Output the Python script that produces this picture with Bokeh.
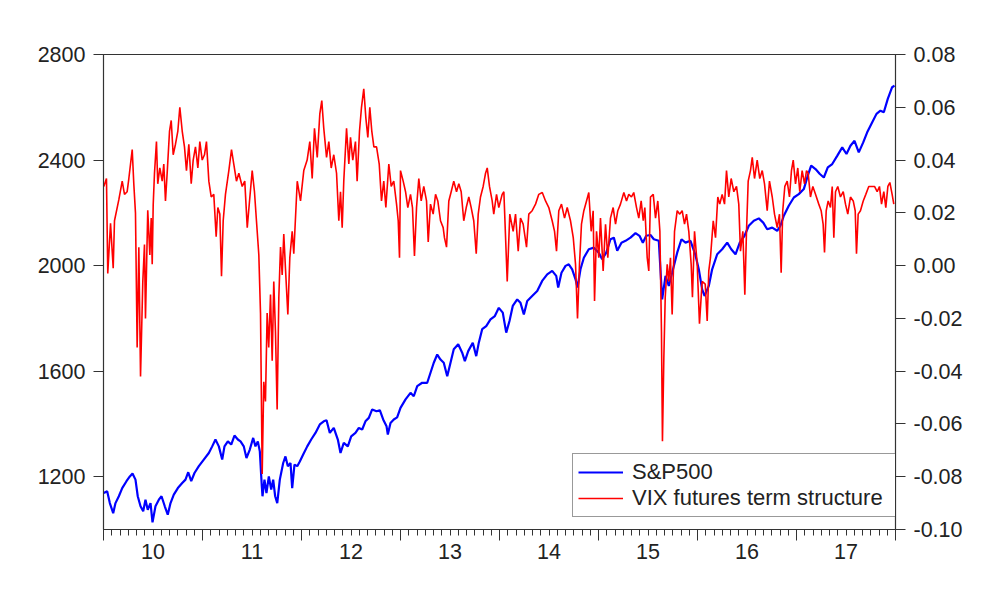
from bokeh.plotting import figure
from bokeh.models import (Range1d, LinearAxis, FixedTicker, NumeralTickFormatter,
                          Legend, LegendItem, ColumnDataSource)
from bokeh.embed import file_html
from bokeh.resources import INLINE

# ---- data (decimal year, value) ----
spx_t = [2010.003, 2010.037, 2010.064, 2010.098, 2010.121, 2010.155, 2010.189, 2010.232, 2010.266, 2010.293,
         2010.323, 2010.346, 2010.374, 2010.401, 2010.424, 2010.447, 2010.475, 2010.495, 2010.525, 2010.559,
         2010.586, 2010.619, 2010.649, 2010.677, 2010.710, 2010.751, 2010.795, 2010.828, 2010.856, 2010.886,
         2010.919, 2010.963, 2011.013, 2011.064, 2011.098, 2011.131, 2011.165, 2011.199, 2011.222, 2011.256,
         2011.290, 2011.323, 2011.357, 2011.384, 2011.417, 2011.444, 2011.478, 2011.512, 2011.535, 2011.559,
         2011.579, 2011.599, 2011.606, 2011.626, 2011.646, 2011.670, 2011.694, 2011.714, 2011.734, 2011.755,
         2011.781, 2011.815, 2011.838, 2011.862, 2011.889, 2011.906, 2011.929, 2011.957, 2011.983, 2012.017,
         2012.058, 2012.098, 2012.141, 2012.185, 2012.225, 2012.253, 2012.286, 2012.326, 2012.367, 2012.394,
         2012.427, 2012.468, 2012.502, 2012.545, 2012.579, 2012.613, 2012.646, 2012.680, 2012.714, 2012.758,
         2012.791, 2012.825, 2012.859, 2012.872, 2012.899, 2012.932, 2012.966, 2013.000, 2013.051, 2013.101,
         2013.134, 2013.169, 2013.219, 2013.270, 2013.303, 2013.336, 2013.371, 2013.404, 2013.437, 2013.472,
         2013.505, 2013.538, 2013.583, 2013.623, 2013.650, 2013.684, 2013.730, 2013.765, 2013.791, 2013.825,
         2013.866, 2013.909, 2013.953, 2013.993, 2014.033, 2014.068, 2014.101, 2014.134, 2014.179, 2014.212,
         2014.246, 2014.280, 2014.330, 2014.381, 2014.431, 2014.482, 2014.532, 2014.573, 2014.593, 2014.626,
         2014.667, 2014.700, 2014.734, 2014.768, 2014.788, 2014.818, 2014.852, 2014.902, 2014.953, 2015.003,
         2015.037, 2015.078, 2015.121, 2015.155, 2015.189, 2015.232, 2015.273, 2015.323, 2015.374, 2015.414,
         2015.448, 2015.482, 2015.525, 2015.559, 2015.609, 2015.643, 2015.677, 2015.710, 2015.744, 2015.795,
         2015.838, 2015.879, 2015.929, 2015.977, 2016.013, 2016.047, 2016.071, 2016.114, 2016.148, 2016.199,
         2016.249, 2016.300, 2016.341, 2016.384, 2016.427, 2016.475, 2016.518, 2016.569, 2016.619, 2016.664,
         2016.704, 2016.755, 2016.805, 2016.838, 2016.872, 2016.922, 2016.973, 2017.023, 2017.074, 2017.114,
         2017.148, 2017.192, 2017.236, 2017.276, 2017.316, 2017.361, 2017.411, 2017.462, 2017.505, 2017.545,
         2017.586, 2017.629, 2017.674, 2017.714, 2017.765, 2017.808, 2017.848, 2017.882, 2017.922, 2017.966,
         2017.990]
spx_v = [1138, 1145, 1100, 1062, 1100, 1126, 1157, 1183, 1201, 1212,
         1189, 1126, 1088, 1069, 1113, 1075, 1100, 1027, 1088, 1113,
         1126, 1088, 1056, 1100, 1132, 1157, 1176, 1189, 1217, 1183,
         1214, 1240, 1265, 1290, 1315, 1341, 1315, 1265, 1315, 1334,
         1322, 1356, 1341, 1334, 1315, 1271, 1303, 1347, 1315, 1334,
         1296, 1164, 1126, 1189, 1138, 1201, 1151, 1189, 1126, 1100,
         1189, 1252, 1277, 1240, 1252, 1157, 1246, 1240, 1258, 1284,
         1315, 1341, 1366, 1398, 1410, 1414, 1366, 1385, 1341, 1290,
         1328, 1315, 1353, 1366, 1385, 1379, 1410, 1423, 1455, 1448,
         1452, 1417, 1391, 1360, 1404, 1417, 1425, 1461, 1493, 1518,
         1505, 1543, 1556, 1556, 1594, 1632, 1663, 1644, 1632, 1581,
         1632, 1683, 1702, 1670, 1638, 1676, 1708, 1657, 1708, 1759,
         1771, 1796, 1809, 1840, 1822, 1746, 1790, 1847, 1872, 1859,
         1815, 1866, 1885, 1904, 1942, 1967, 1980, 1961, 1917, 1973,
         1999, 2005, 1986, 1948, 1917, 1986, 2030, 2062, 2068, 2049,
         2024, 2049, 2100, 2106, 2056, 2087, 2094, 2106, 2123, 2113,
         2087, 2113, 2116, 2100, 2094, 1872, 1961, 1923, 1973, 2049,
         2100, 2087, 2094, 2043, 1986, 1910, 1885, 1923, 1986, 2043,
         2062, 2087, 2062, 2043, 2087, 2113, 2151, 2170, 2179, 2163,
         2138, 2144, 2132, 2151, 2189, 2227, 2258, 2271, 2290, 2341,
         2379, 2366, 2347, 2334, 2372, 2385, 2416, 2448, 2423, 2454,
         2473, 2429, 2467, 2505, 2543, 2575, 2587, 2581, 2632, 2676,
         2682]

vix_t = [2010.003, 2010.030, 2010.043, 2010.071, 2010.098, 2010.111, 2010.155, 2010.189, 2010.212, 2010.239,
         2010.256, 2010.290, 2010.306, 2010.323, 2010.340, 2010.357, 2010.374, 2010.397, 2010.414, 2010.424,
         2010.447, 2010.468, 2010.482, 2010.492, 2010.502, 2010.515, 2010.535, 2010.548, 2010.569, 2010.593,
         2010.609, 2010.626, 2010.643, 2010.667, 2010.684, 2010.704, 2010.727, 2010.751, 2010.771, 2010.795,
         2010.818, 2010.838, 2010.862, 2010.886, 2010.906, 2010.929, 2010.953, 2010.973, 2010.997, 2011.020,
         2011.040, 2011.064, 2011.088, 2011.114, 2011.138, 2011.155, 2011.175, 2011.192, 2011.209, 2011.232,
         2011.266, 2011.293, 2011.316, 2011.343, 2011.367, 2011.401, 2011.427, 2011.452, 2011.475, 2011.502,
         2011.525, 2011.545, 2011.569, 2011.586, 2011.603, 2011.619, 2011.636, 2011.653, 2011.669, 2011.687,
         2011.704, 2011.720, 2011.737, 2011.754, 2011.771, 2011.788, 2011.805, 2011.821, 2011.838, 2011.862,
         2011.882, 2011.906, 2011.922, 2011.957, 2011.990, 2012.023, 2012.057, 2012.084, 2012.108, 2012.131,
         2012.159, 2012.185, 2012.205, 2012.225, 2012.253, 2012.276, 2012.300, 2012.326, 2012.354, 2012.377,
         2012.394, 2012.411, 2012.427, 2012.455, 2012.478, 2012.495, 2012.518, 2012.545, 2012.562, 2012.586,
         2012.606, 2012.629, 2012.650, 2012.670, 2012.690, 2012.710, 2012.731, 2012.758, 2012.785, 2012.808,
         2012.831, 2012.852, 2012.882, 2012.906, 2012.932, 2012.960, 2012.977, 2012.990, 2013.000, 2013.027,
         2013.051, 2013.074, 2013.101, 2013.121, 2013.141, 2013.162, 2013.185, 2013.209, 2013.235, 2013.263,
         2013.280, 2013.303, 2013.330, 2013.354, 2013.377, 2013.404, 2013.431, 2013.444, 2013.465, 2013.488,
         2013.512, 2013.538, 2013.566, 2013.589, 2013.613, 2013.639, 2013.664, 2013.690, 2013.714, 2013.740,
         2013.765, 2013.785, 2013.808, 2013.835, 2013.859, 2013.876, 2013.899, 2013.926, 2013.942, 2013.970,
         2013.993, 2014.027, 2014.044, 2014.078, 2014.104, 2014.138, 2014.162, 2014.189, 2014.212, 2014.239,
         2014.273, 2014.296, 2014.330, 2014.364, 2014.397, 2014.432, 2014.465, 2014.498, 2014.532, 2014.556,
         2014.576, 2014.599, 2014.626, 2014.657, 2014.684, 2014.717, 2014.745, 2014.768, 2014.788, 2014.808,
         2014.828, 2014.852, 2014.879, 2014.902, 2014.926, 2014.946, 2014.960, 2014.980, 2015.003, 2015.020,
         2015.047, 2015.071, 2015.094, 2015.121, 2015.148, 2015.172, 2015.195, 2015.222, 2015.256, 2015.283,
         2015.306, 2015.333, 2015.356, 2015.384, 2015.407, 2015.431, 2015.452, 2015.468, 2015.492, 2015.508,
         2015.525, 2015.553, 2015.576, 2015.599, 2015.620, 2015.636, 2015.646, 2015.660, 2015.674, 2015.694,
         2015.710, 2015.727, 2015.744, 2015.768, 2015.795, 2015.821, 2015.845, 2015.869, 2015.889, 2015.912,
         2015.936, 2015.949, 2015.970, 2015.997, 2016.020, 2016.047, 2016.078, 2016.098, 2016.114, 2016.131,
         2016.159, 2016.182, 2016.205, 2016.225, 2016.249, 2016.273, 2016.293, 2016.316, 2016.340, 2016.367,
         2016.394, 2016.417, 2016.434, 2016.458, 2016.478, 2016.495, 2016.512, 2016.535, 2016.553, 2016.576,
         2016.603, 2016.629, 2016.654, 2016.677, 2016.704, 2016.727, 2016.755, 2016.778, 2016.805, 2016.828,
         2016.845, 2016.861, 2016.882, 2016.906, 2016.929, 2016.949, 2016.967, 2016.990, 2017.013, 2017.033,
         2017.057, 2017.081, 2017.101, 2017.118, 2017.141, 2017.165, 2017.192, 2017.225, 2017.249, 2017.269,
         2017.283, 2017.300, 2017.320, 2017.343, 2017.361, 2017.377, 2017.394, 2017.417, 2017.444, 2017.472,
         2017.495, 2017.518, 2017.545, 2017.573, 2017.593, 2017.606, 2017.623, 2017.646, 2017.674, 2017.700,
         2017.730, 2017.765, 2017.788, 2017.815, 2017.838, 2017.859, 2017.882, 2017.902, 2017.923, 2017.943,
         2017.966, 2017.983]
vix_v = [0.030, 0.033, -0.003, 0.016, -0.001, 0.017, 0.025, 0.032, 0.027, 0.028,
         0.033, 0.044, 0.031, 0.020, -0.031, 0.007, -0.042, -0.006, 0.008, -0.020,
         0.021, 0.004, 0.018, 0.0005, 0.023, 0.035, 0.047, 0.031, 0.037, 0.032,
         0.0385, 0.0245, 0.035, 0.051, 0.055, 0.042, 0.046, 0.051, 0.060, 0.051,
         0.045, 0.036, 0.046, 0.031, 0.040, 0.045, 0.037, 0.047, 0.040, 0.042,
         0.047, 0.032, 0.026, 0.027, 0.011, 0.022, 0.0196, -0.004, 0.017, 0.027,
         0.036, 0.044, 0.0385, 0.032, 0.035, 0.030, 0.032, 0.0144, 0.0245, 0.036,
         0.028, 0.017, 0.004, -0.018, -0.079, -0.044, -0.0515, -0.018, -0.031, -0.011,
         -0.036, -0.006, -0.025, -0.0545, -0.012, 0.007, -0.0035, 0.012, -0.001, -0.0185,
         0.003, 0.013, 0.0045, 0.032, 0.0245, 0.036, 0.040, 0.047, 0.033, 0.052,
         0.041, 0.0575, 0.0625, 0.052, 0.041, 0.047, 0.037, 0.042, 0.035, 0.017,
         0.028, 0.0144, 0.032, 0.052, 0.0385, 0.0486, 0.040, 0.047, 0.032, 0.051,
         0.060, 0.067, 0.056, 0.0486, 0.060, 0.051, 0.045, 0.045, 0.0385, 0.0245,
         0.032, 0.022, 0.0385, 0.030, 0.032, 0.0233, 0.017, 0.003, 0.036, 0.032,
         0.028, 0.022, 0.027, 0.022, 0.0037, 0.022, 0.033, 0.0245, 0.030, 0.0245,
         0.009, 0.0233, 0.0195, 0.027, 0.0245, 0.017, 0.0144, 0.0106, 0.007, 0.0245,
         0.028, 0.032, 0.028, 0.031, 0.028, 0.017, 0.022, 0.026, 0.022, 0.017,
         0.0045, 0.0195, 0.026, 0.030, 0.035, 0.037, 0.030, 0.0245, 0.0195, 0.027,
         0.022, 0.027, 0.028, -0.006, 0.0195, 0.013, 0.0195, 0.0055, 0.018, 0.0157,
         0.007, 0.0195, 0.0208, 0.0233, 0.027, 0.0277, 0.0245, 0.022, 0.017, 0.013,
         0.0055, 0.0208, 0.0233, 0.018, 0.022, 0.017, 0.0106, 0.0005, -0.020, 0.0005,
         0.0157, 0.0208, 0.0245, 0.0277, 0.013, 0.0208, -0.0134, 0.013, 0.003, 0.018,
         -0.002, 0.0157, 0.003, 0.018, 0.022, 0.0157, 0.0208, 0.0233, 0.0277, 0.0245,
         0.027, 0.026, 0.0277, 0.022, 0.018, 0.0245, 0.017, 0.022, 0.003, -0.002,
         0.026, 0.027, 0.018, 0.0245, 0.013, -0.025, -0.0666, -0.035, -0.012, 0.0005,
         -0.006, 0.003, -0.0185, 0.013, 0.0208, 0.0195, 0.0208, 0.0157, 0.0195, 0.013,
         0.0005, -0.012, 0.013, 0.0005, -0.022, -0.006, -0.007, -0.021, -0.002, 0.003,
         0.017, 0.0106, 0.026, 0.0233, 0.027, 0.0233, 0.036, 0.026, 0.033, 0.028,
         0.030, 0.0233, 0.0055, 0.013, -0.011, 0.013, 0.032, 0.036, 0.041, 0.033,
         0.040, 0.033, 0.036, 0.031, 0.0208, 0.032, 0.026, 0.0195, 0.0144, 0.0195,
         -0.0027, 0.0208, 0.030, 0.032, 0.026, 0.036, 0.040, 0.031, 0.037, 0.028,
         0.036, 0.031, 0.036, 0.035, 0.026, 0.030, 0.027, 0.0233, 0.0208, 0.0157,
         0.005, 0.0208, 0.0245, 0.022, 0.030, 0.0106, 0.028, 0.030, 0.026, 0.028,
         0.0233, 0.0195, 0.026, 0.0245, 0.0208, 0.0045, 0.0195, 0.0208, 0.0245, 0.027,
         0.030, 0.030, 0.030, 0.028, 0.030, 0.0233, 0.028, 0.022, 0.030, 0.0315,
         0.027, 0.0233]

years = [2010, 2011, 2012, 2013, 2014, 2015, 2016, 2017]
year_labels = ["10", "11", "12", "13", "14", "15", "16", "17"]
left_ticks = [1200, 1600, 2000, 2400, 2800]
right_ticks = [-0.10, -0.08, -0.06, -0.04, -0.02, 0.00, 0.02, 0.04, 0.06, 0.08]

FONT = "Liberation Sans"
FS = "21.5px"
AX = "#333333"
TXT = "#222222"

p = figure(frame_width=792, frame_height=475, min_border_left=103, min_border_right=97,
           min_border_top=54, min_border_bottom=45,
           x_range=Range1d(2010.0, 2018.0), y_range=Range1d(1000, 2800),
           output_backend="svg", toolbar_location=None, title=None,
           background_fill_color="white", border_fill_color="white")
p.extra_y_ranges = {"vix": Range1d(-0.10, 0.08)}
p.grid.visible = False
p.outline_line_color = AX
p.outline_line_width = 1.2

spx_src = ColumnDataSource(dict(t=spx_t, v=spx_v))
vix_src = ColumnDataSource(dict(t=vix_t, v=vix_v))
r1 = p.line("t", "v", source=spx_src, line_color="#0000ff", line_width=2.2)
r2 = p.line("t", "v", source=vix_src, line_color="#ff0000", line_width=1.6, y_range_name="vix")

# x axis: year boundary ticks + monthly minor ticks
xa = p.xaxis[0]
boundaries = years + [2018]
months = [y + m / 12 for y in years for m in range(1, 12)]
xa.ticker = FixedTicker(ticks=boundaries, minor_ticks=months)
xa.major_label_overrides = {b: "" for b in boundaries}
xa.major_tick_out = 11
xa.major_tick_in = 0
xa.minor_tick_out = 6
xa.minor_tick_in = 0
xa.axis_line_color = AX
xa.major_tick_line_color = AX
xa.minor_tick_line_color = AX
xa.major_label_text_font_size = "1px"
xa.major_label_standoff = 0

# x axis labels at mid-year
mids = [y + 0.5 for y in years]
xl = LinearAxis(ticker=FixedTicker(ticks=mids, minor_ticks=[]))
xl.major_label_overrides = {m: lab for m, lab in zip(mids, year_labels)}
xl.axis_line_color = None
xl.major_tick_line_color = None
xl.minor_tick_line_color = None
xl.major_label_text_font = FONT
xl.major_label_text_font_size = FS
xl.major_label_text_color = TXT
xl.major_label_standoff = -3
p.add_layout(xl, "below")

# left axis
ya = p.yaxis[0]
ya.ticker = FixedTicker(ticks=left_ticks, minor_ticks=[])
ya.major_tick_out = 10
ya.major_tick_in = 0
ya.axis_line_color = AX
ya.major_tick_line_color = AX
ya.major_label_text_font = FONT
ya.major_label_text_font_size = FS
ya.major_label_text_color = TXT
ya.major_label_standoff = 8

# right axis
yr = LinearAxis(y_range_name="vix", ticker=FixedTicker(ticks=right_ticks, minor_ticks=[]),
                formatter=NumeralTickFormatter(format="0.00"))
yr.major_tick_out = 10
yr.major_tick_in = 0
yr.axis_line_color = AX
yr.major_tick_line_color = AX
yr.major_label_text_font = FONT
yr.major_label_text_font_size = FS
yr.major_label_text_color = TXT
yr.major_label_standoff = 8
p.add_layout(yr, "right")

legend = Legend(items=[LegendItem(label="S&P500", renderers=[r1]),
                       LegendItem(label="VIX futures term structure", renderers=[r2])],
                location=(469, 12))
legend.label_text_font = FONT
legend.label_text_font_size = "22px"
legend.label_text_color = TXT
legend.glyph_width = 45
legend.label_standoff = 9
legend.label_height = 22
legend.glyph_height = 22
legend.label_width = 266
legend.spacing = 0
legend.padding = 5
legend.margin = 0
legend.border_line_color = "#333333"
legend.border_line_width = 1.5
legend.background_fill_alpha = 1.0
p.add_layout(legend, "center")

open("out.html", "w").write(file_html(p, INLINE))
